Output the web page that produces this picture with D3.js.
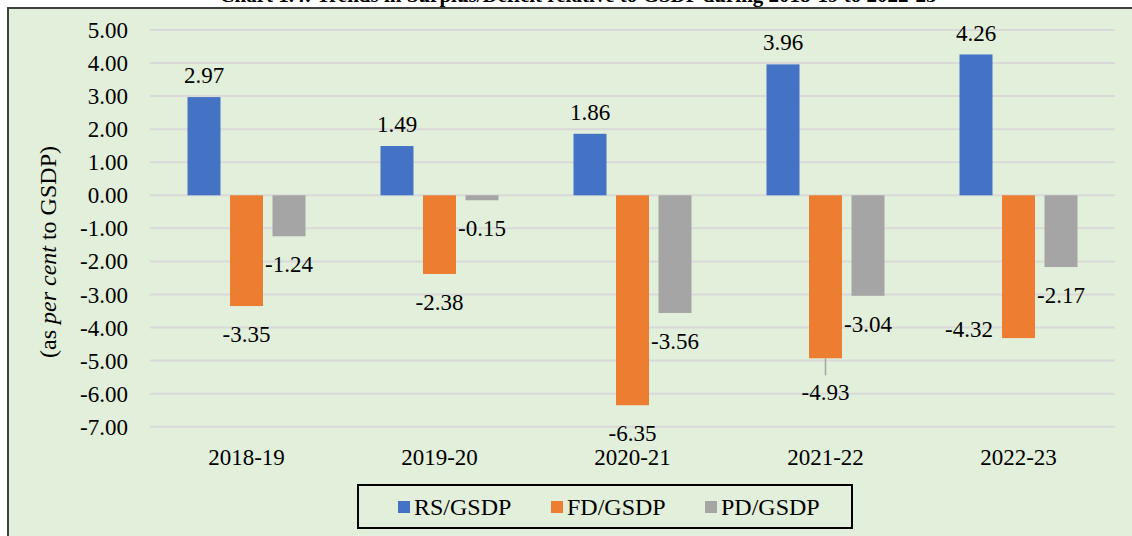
<!doctype html>
<html lang="en">
<head>
  <meta charset="utf-8">
  <title>Trends in Surplus/Deficit relative to GSDP</title>
  <style>
    body { margin: 0; background: #fff; }
    svg { display: block; font-family: "Liberation Serif", "Times New Roman", serif; }
    .grid line { stroke: #d9d9d9; stroke-width: 2; }
    .tick-label, .cat-label, .bar-label, .legend text { fill: #000; font-size: 23px; }
  </style>
</head>
<body>
  <div id="chart"></div>
  <script src="https://d3js.org/d3.v7.min.js"></script>
  <script>
// chart data
const years = ['2018-19', '2019-20', '2020-21', '2021-22', '2022-23'];
const series = ['RS/GSDP', 'FD/GSDP', 'PD/GSDP'];
const rsValues = [2.97, 1.49, 1.86, 3.96, 4.26];
const fdValues = [-3.35, -2.38, -6.35, -4.93, -4.32];
const pdValues = [-1.24, -0.15, -3.56, -3.04, -2.17];
const yTicks = [5, 4, 3, 2, 1, 0, -1, -2, -3, -4, -5, -6, -7];

const colors = ['#4472c4', '#ed7d31', '#a5a5a5'];
const allValues = [rsValues, fdValues, pdValues];

const width = 1132, height = 536;
const fmt = v => v.toFixed(2); // plain hyphen minus like the original

const svg = d3.select('#chart').append('svg')
  .attr('width', width)
  .attr('height', height);

// title sits above the frame, mostly cut off
svg.append('text')
  .attr('x', 578)
  .attr('y', 2)
  .attr('text-anchor', 'middle')
  .style('font-size', '21px')
  .style('font-weight', 'bold')
  .text('Chart 1.4: Trends in Surplus/Deficit relative to GSDP during 2018-19 to 2022-23');

// green frame
svg.append('rect')
  .attr('x', 8).attr('y', 8)
  .attr('width', width + 10).attr('height', height)
  .attr('fill', '#e2efda')
  .attr('stroke', '#404040')
  .attr('stroke-width', 2);

const y = d3.scaleLinear().domain([-7, 5]).range([426.7, 30]);
const x0 = d3.scaleBand().domain(years).range([150, 1115]);
const x1 = d3.scaleBand().domain(series).range([-59, 59]).paddingInner(0.2235);

// gridlines
svg.append('g').attr('class', 'grid')
  .selectAll('line')
  .data(yTicks)
  .join('line')
  .attr('x1', 150).attr('x2', 1115)
  .attr('y1', d => y(d)).attr('y2', d => y(d));

// y tick labels
svg.append('g')
  .selectAll('text')
  .data(yTicks)
  .join('text')
  .attr('class', 'tick-label')
  .attr('x', 128)
  .attr('y', d => y(d))
  .attr('dy', '0.35em')
  .attr('text-anchor', 'end')
  .text(fmt);

// y axis title
const yTitle = svg.append('text')
  .attr('transform', 'translate(56,252) rotate(-90)')
  .attr('text-anchor', 'middle')
  .style('font-size', '24px');
yTitle.append('tspan').text('(as ');
yTitle.append('tspan').style('font-style', 'italic').text('per cent');
yTitle.append('tspan').text(' to GSDP)');

// flatten for bars
const bars = [];
years.forEach((yr, i) => {
  series.forEach((s, j) => {
    bars.push({ year: yr, series: s, value: allValues[j][i], color: colors[j] });
  });
});

svg.append('g')
  .selectAll('rect')
  .data(bars)
  .join('rect')
  .attr('x', d => x0(d.year) + x0.bandwidth() / 2 + x1(d.series))
  .attr('width', x1.bandwidth())
  .attr('y', d => y(Math.max(0, d.value)))
  .attr('height', d => Math.abs(y(d.value) - y(0)))
  .attr('fill', d => d.color);

// labels that were dragged away in the original
const nudges = {
  '2021-22|FD/GSDP': { dy: 6, leader: true },
  '2022-23|FD/GSDP': { left: true }
};

const labels = svg.append('g');
bars.forEach(d => {
  const cx = x0(d.year) + x0.bandwidth() / 2 + x1(d.series) + x1.bandwidth() / 2;
  const n = nudges[d.year + '|' + d.series] || {};
  let ly = d.value >= 0 ? y(d.value) - 22 : y(d.value) + 28;
  let lx = cx;
  let anchor = 'middle';
  if (n.dy) ly += n.dy;
  if (n.left) {
    lx = cx - x1.bandwidth() / 2 - 9;
    ly = y(d.value) - 9;
    anchor = 'end';
  }
  if (n.leader) {
    labels.append('line')
      .attr('x1', cx).attr('x2', cx)
      .attr('y1', y(d.value)).attr('y2', y(d.value) + 17)
      .attr('stroke', '#a5a5a5')
      .attr('stroke-width', 1.5);
  }
  labels.append('text')
    .attr('class', 'bar-label')
    .attr('x', lx)
    .attr('y', ly)
    .attr('dy', '0.35em')
    .attr('text-anchor', anchor)
    .text(fmt(d.value));
});

// category labels
svg.append('g')
  .selectAll('text')
  .data(years)
  .join('text')
  .attr('class', 'cat-label')
  .attr('x', d => x0(d) + x0.bandwidth() / 2)
  .attr('y', 457)
  .attr('dy', '0.35em')
  .attr('text-anchor', 'middle')
  .text(d => d);

// legend
const legend = svg.append('g').attr('class', 'legend');
legend.append('rect')
  .attr('x', 358).attr('y', 485)
  .attr('width', 494).attr('height', 43)
  .attr('fill', 'none')
  .attr('stroke', '#000')
  .attr('stroke-width', 2);

const legendX = [398, 551, 705];
const items = legend.selectAll('g.item')
  .data(series)
  .join('g')
  .attr('class', 'item')
  .attr('transform', (d, i) => 'translate(' + legendX[i] + ',507)');

items.append('rect')
  .attr('x', 0).attr('y', -6)
  .attr('width', 12).attr('height', 12)
  .attr('fill', (d, i) => colors[i]);

items.append('text')
  .attr('x', 16)
  .attr('dy', '0.35em')
  .style('font-size', '24px')
  .text(d => d);
  </script>
</body>
</html>
